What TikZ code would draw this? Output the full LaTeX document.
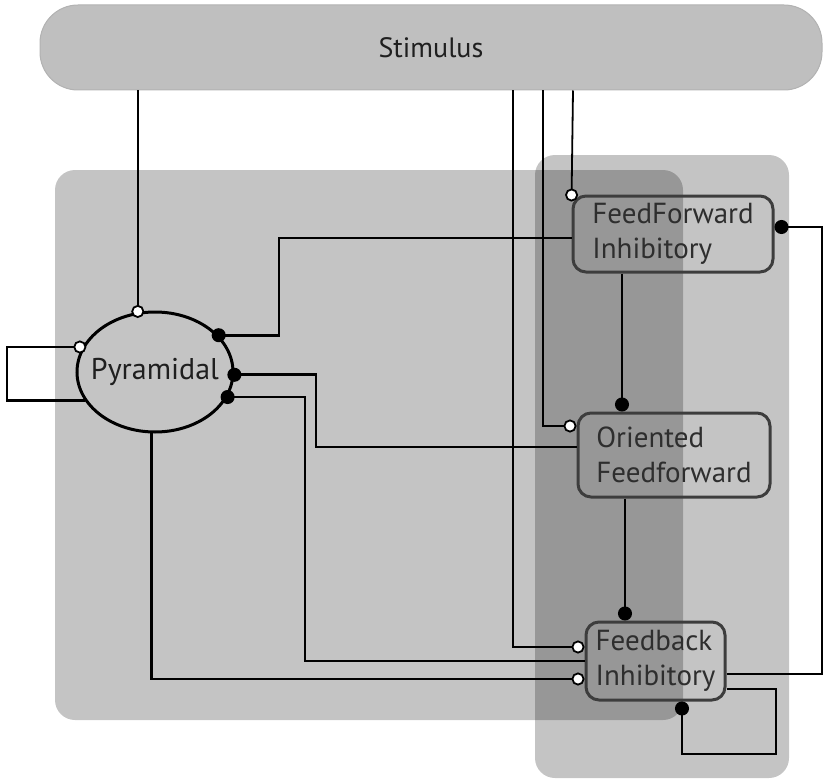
\documentclass[tikz,border=0pt]{standalone}
\usepackage{fontspec}
\setmainfont{PT Sans}
\usetikzlibrary{arrows.meta,calc,shapes.geometric}
\tikzset{
  region/.style={fill=black, fill opacity=0.23, rounded corners=20pt},
  cell/.style={draw=black!76, line width=3pt, rounded corners=13pt, align=left,
    text=black!82, font=\fontsize{29}{35}\selectfont, inner sep=0pt},
  wire/.style={draw=black, line width=2.6pt},
  thin wire/.style={draw=black, line width=1.8pt},
  odot/.style={-{Circle[open, fill=white, length=13pt, width=13pt, line width=1.8pt]}},
  fdot/.style={-{Circle[length=14pt, width=14pt]}},
}
\begin{document}
\begin{tikzpicture}[x=1pt, y=-1pt]
\useasboundingbox (0,0) rectangle (825,784);
% regions
\fill[region] (55,170) rectangle (683,720);
\fill[region] (535,155) rectangle (789,778);
% nodes
\node[draw=black!30, fill=black!25, line width=1pt, rounded corners=38pt,
  minimum width=782pt, minimum height=85pt, inner sep=0pt,
  font=\fontsize{28}{34}\selectfont, text=black!88] (stim) at (431,47.5) {Stimulus};
\node[ellipse, draw=black, line width=3pt, minimum width=156pt, minimum height=120pt,
  inner sep=0pt, font=\fontsize{30}{34}\selectfont, text=black!88] (pyr) at (155,372) {\makebox[0pt]{Pyramidal}};
\node[cell, minimum width=200pt, minimum height=76pt] (ffi) at (673,234) {FeedForward\\Inhibitory};
\node[cell, minimum width=192pt, minimum height=84pt] (off) at (674,455) {Oriented\\Feedforward};
\node[cell, minimum width=139pt, minimum height=78pt] (fbi) at (655.5,661) {Feedback\\Inhibitory};
% helper coordinates
\coordinate (X7) at (7,0);
\coordinate (X279) at (279,0);
\coordinate (X305) at (305,0);
\coordinate (X316) at (316,0);
\coordinate (X513) at (513,0);
\coordinate (X543) at (543,0);
\coordinate (X573) at (573,0);
\coordinate (X622) at (622,0);
\coordinate (X625) at (625,0);
\coordinate (X682) at (682,0);
\coordinate (X776) at (776,0);
\coordinate (X822) at (822,0);
\coordinate (Y754) at (0,754);
\coordinate (fbiA) at ($(fbi.west)+(0,-14)$);
\coordinate (fbiB) at ($(fbi.west)+(0,18)$);
\coordinate (fbiC) at ($(fbi.east)+(0,13)$);
\coordinate (fbiD) at ($(fbi.east)+(0,28)$);
\coordinate (offA) at ($(off.west)+(0,-29)$);
\coordinate (offB) at ($(off.west)+(0,-8)$);
\coordinate (ffiA) at ($(ffi.north west)+(0,7)$);
\coordinate (ffiB) at ($(ffi.west)+(0,4)$);
\coordinate (ffiC) at ($(ffi.east)+(0,-7)$);
% stimulus connections
\draw[thin wire, odot, shorten >=-6pt] (pyr.106 |- stim.south) -- (pyr.106);
\draw[thin wire, odot] (X513 |- stim.south) |- (fbiA);
\draw[thin wire, odot] (X543 |- stim.south) |- (offA);
\draw[thin wire, odot] (X573 |- stim.south) -- (ffiA);
% pyramidal connections
\draw[wire, fdot, shorten >=-7pt] (ffiB) -- (ffiB -| X279) |- (pyr.30);
\draw[wire, odot, shorten >=-4pt] (pyr.202) -- (pyr.202 -| X7) |- (pyr.161);
\draw[wire, fdot, shorten >=-7pt] (offB) -- (offB -| X316) |- (pyr.-2);
\draw[wire, fdot, shorten >=-7pt] (fbi.west) -- (fbi.west -| X305) |- (pyr.-19);
\draw[wire, odot] (pyr.-93) |- (fbiB);
% interneuron connections
\draw[wire, fdot] (ffi.south -| X622) -- (off.north -| X622);
\draw[wire, fdot] (off.south -| X625) -- (fbi.north -| X625);
\draw[wire, fdot] (fbiC) -- (fbiC -| X822) |- (ffiC);
\draw[wire, fdot] (fbiD) -| (X776 |- Y754) -| (fbi.south -| X682);
\end{tikzpicture}
\end{document}
